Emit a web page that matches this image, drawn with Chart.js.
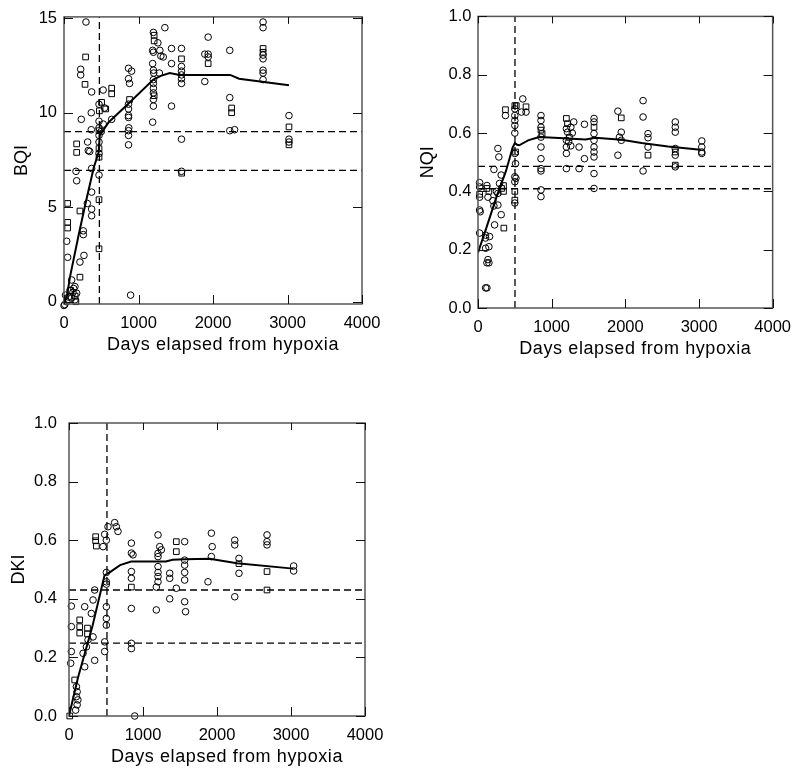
<!DOCTYPE html>
<html>
<head>
<meta charset="utf-8">
<script src="https://cdn.jsdelivr.net/npm/chart.js@4.4.1/dist/chart.umd.min.js"></script>
<style>
  body { margin: 0; background: #fff; width: 801px; height: 768px; position: relative; overflow: hidden; }
  canvas { position: absolute; }
</style>
</head>
<body>
<canvas id="bqiChart" width="400" height="380" style="left:0;top:0"></canvas>
<canvas id="nqiChart" width="401" height="380" style="left:400px;top:0"></canvas>
<canvas id="dkiChart" width="400" height="388" style="left:0;top:380px"></canvas>
<script>
// tick labels
const dayTicks = [0, 1000, 2000, 3000, 4000];
const bqiTicks = [0, 5, 10, 15];
const fracTicks = [0, 0.2, 0.4, 0.6, 0.8, 1.0];

// BQI: [days, value]
const bqiCircles = [
  [0,-0.2],[10,-0.15],[20,0.35],[36,0.0],[60,0.25],[80,0.6],[103,0.2],[103,1.15],[120,0.5],[130,0.7],[147,0.8],[147,0.1],[170,0.45],
  [36,3.2],[49,2.35],[161,6.9],[170,6.4],[214,2.1],[224,12.3],[224,12.0],[232,9.65],[259,3.75],[259,3.55],[268,2.45],[295,14.8],
  [313,5.2],[317,8.45],[326,8.0],[345,7.95],[366,10.0],[366,9.1],[371,11.1],[371,7.05],[371,5.8],[371,4.9],[371,4.55],
  [470,10.45],[470,9.55],[470,9.2],[470,8.8],[470,8.45],[470,7.85],[470,6.7],
  [500,9.0],[525,11.2],[527,9.4],[545,10.25],[640,9.65],
  [866,12.35],[866,11.8],[880,11.55],[866,10.45],[866,10.2],[866,9.85],[866,9.75],[870,9.2],[866,9.05],[866,8.8],[866,8.3],[894,0.35],[907,12.2],
  [1200,14.25],[1190,13.3],[1200,13.2],[1190,12.6],[1200,12.25],[1205,12.1],[1200,11.75],[1200,11.55],[1200,11.3],[1200,11.05],[1200,10.7],[1200,10.35],[1190,9.5],
  [1260,13.7],[1280,12.1],[1287,13.3],[1300,13.0],[1332,12.95],[1354,14.5],[1443,13.4],[1443,12.6],[1443,10.35],
  [1577,13.4],[1577,12.45],[1577,12.2],[1577,12.0],[1577,11.8],[1577,11.55],[1577,8.6],[1577,6.9],
  [1890,13.1],[1890,11.65],[1935,14.0],[1935,13.1],[1935,12.95],
  [2225,13.3],[2225,10.8],[2225,9.05],[2290,9.1],
  [2672,14.8],[2672,14.5],[2672,13.05],[2672,12.85],[2672,12.25],[2672,12.1],[2672,11.75],
  [3020,9.85],[3020,8.6],[3020,8.45]
];
const bqiSquares = [
  [49,5.2],[49,4.2],[49,3.9],[90,0.6],[150,0.3],[160,0.0],[170,8.35],[170,7.9],[214,4.8],[214,1.3],[282,11.5],[290,12.95],
  [470,9.05],[470,8.1],[470,7.65],[470,5.4],[470,2.8],[475,10.1],[505,10.55],[560,10.2],[640,11.3],[640,11.0],
  [880,10.7],[1210,14.1],[1210,13.8],[1210,10.9],[1577,12.85],[1580,6.8],[1935,12.6],[2250,10.25],[2250,10.0],
  [2672,13.4],[2672,13.2],[3020,9.25],[3020,8.3]
];
const bqiTrend = [[10,0],[40,0.3],[80,1.3],[200,3.6],[300,5.4],[400,7.1],[465,7.9],[480,8.8],[600,9.5],[870,10.5],
  [1200,11.75],[1300,11.95],[1420,12.1],[1550,12.0],[2230,12.0],[2350,11.8],[3020,11.45]];
const bqiCutDay = 475;
const bqiCutLevels = [9.0, 6.95];

// NQI
const nqiCircles = [
  [22,0.43],[22,0.415],[22,0.38],[22,0.336],[30,0.33],[22,0.257],[121,0.42],[135,0.38],[103,0.25],[103,0.24],[103,0.205],[148,0.21],
  [121,0.155],[148,0.155],[135,0.166],[103,0.069],[121,0.069],[157,0.245],
  [202,0.368],[216,0.475],[216,0.35],[225,0.285],[250,0.40],[270,0.547],[270,0.353],[270,0.393],[283,0.518],[292,0.427],[315,0.32],[315,0.456],[373,0.66],
  [500,0.683],[500,0.66],[500,0.643],[500,0.626],[500,0.6],[500,0.53],[510,0.495],[500,0.45],[515,0.445],[500,0.433],[500,0.36],
  [590,0.672],[608,0.717],[652,0.672],
  [855,0.66],[855,0.643],[855,0.62],[855,0.586],[855,0.552],[855,0.512],[855,0.478],[855,0.47],[855,0.405],[855,0.382],
  [1200,0.615],[1215,0.603],[1200,0.575],[1200,0.552],[1200,0.53],[1200,0.478],[1230,0.57],[1260,0.62],[1260,0.556],[1280,0.6],[1300,0.638],
  [1372,0.552],[1372,0.478],[1445,0.63],[1445,0.512],
  [1575,0.65],[1575,0.638],[1575,0.598],[1575,0.575],[1575,0.552],[1575,0.535],[1575,0.518],[1575,0.461],[1575,0.41],
  [1899,0.675],[1899,0.524],[1920,0.586],[1945,0.603],[1945,0.575],
  [2241,0.711],[2241,0.655],[2241,0.47],[2308,0.598],[2308,0.584],[2308,0.552],
  [2678,0.638],[2678,0.62],[2678,0.603],[2678,0.547],[2678,0.524],[2678,0.484],
  [3038,0.573],[3038,0.552],[3038,0.535],[3038,0.53]
];
const nqiSquares = [
  [22,0.39],[121,0.41],[148,0.40],[320,0.41],[346,0.42],[346,0.40],[351,0.274],[373,0.68],
  [500,0.694],[520,0.694],[510,0.535],[500,0.4],[500,0.37],[652,0.69],
  [855,0.61],[870,0.598],[1200,0.65],[1215,0.632],[1240,0.585],[1575,0.62],[1945,0.652],[2308,0.524],[2678,0.535],[2678,0.49]
];
const nqiTrend = [[0,0.19],[120,0.28],[250,0.38],[380,0.47],[470,0.55],[500,0.565],[530,0.56],[560,0.558],[680,0.575],[830,0.586],
  [1100,0.583],[1460,0.578],[1590,0.584],[1950,0.577],[2220,0.566],[2580,0.554],[3020,0.543]];
const nqiCutDay = 502;
const nqiCutLevels = [0.486, 0.409];

// DKI
const dkiCircles = [
  [32,0.375],[32,0.305],[32,0.22],[23,0.18],[100,0.1],[110,0.083],[100,0.066],[120,0.055],[110,0.038],[90,0.02],
  [212,0.373],[302,0.35],[257,0.26],[190,0.214],[235,0.236],[347,0.43],[325,0.396],[325,0.27],[347,0.19],[212,0.168],
  [482,0.62],[505,0.6],[460,0.578],[527,0.646],[617,0.66],[640,0.646],[662,0.63],
  [505,0.49],[505,0.458],[505,0.45],[505,0.373],[505,0.333],[505,0.31],[482,0.253],[482,0.22],
  [843,0.59],[843,0.556],[865,0.55],[843,0.493],[843,0.47],[843,0.367],[843,0.248],[843,0.23],[888,0.0],
  [1203,0.618],[1226,0.578],[1248,0.567],[1203,0.555],[1203,0.544],[1203,0.51],[1203,0.49],[1203,0.476],[1203,0.458],[1180,0.44],[1180,0.362],
  [1361,0.487],[1361,0.47],[1361,0.4],[1450,0.436],
  [1563,0.595],[1563,0.532],[1563,0.515],[1563,0.49],[1563,0.464],[1563,0.39],[1575,0.356],
  [1924,0.624],[1935,0.578],[1924,0.544],[1878,0.458],
  [2240,0.6],[2240,0.584],[2240,0.407],[2297,0.538],[2297,0.487],
  [2676,0.618],[2676,0.595],[2676,0.584],
  [3036,0.512],[3036,0.495]
];
const dkiSquares = [
  [10,0.0],[77,0.123],[145,0.328],[145,0.305],[145,0.283],[250,0.3],[250,0.28],[360,0.612],[360,0.598],[370,0.58],
  [843,0.44],[1450,0.595],[1450,0.561],[2297,0.52],[2676,0.493],[2676,0.43]
];
const dkiTrend = [[0,0],[120,0.13],[320,0.31],[480,0.48],[550,0.49],[690,0.515],[840,0.527],[1310,0.527],[1400,0.533],
  [1560,0.535],[1900,0.537],[2270,0.521],[3030,0.503]];
const dkiCutDay = 513;
const dkiCutLevels = [0.43, 0.249];

const FONT = "'Liberation Sans', Arial, sans-serif";

// box round the plot with inward tick marks, plus the x title
const framePlugin = {
  id: 'frame',
  afterDraw(chart, args, opts) {
    const { ctx, chartArea: a, scales } = chart;
    ctx.save();
    ctx.strokeStyle = '#555';
    ctx.lineWidth = 1.5;
    ctx.strokeRect(a.left, a.top, a.right - a.left, a.bottom - a.top);
    ctx.strokeStyle = '#111';
    ctx.lineWidth = 1;
    ctx.beginPath();
    scales.x.ticks.forEach(t => {
      const px = Math.round(scales.x.getPixelForValue(t.value)) + 0.5;
      ctx.moveTo(px, a.bottom); ctx.lineTo(px, a.bottom - 9);
      ctx.moveTo(px, a.top); ctx.lineTo(px, a.top + 7);
    });
    scales.y.ticks.forEach(t => {
      const py = Math.round(scales.y.getPixelForValue(t.value)) + 0.5;
      ctx.moveTo(a.left, py); ctx.lineTo(a.left + 9, py);
      ctx.moveTo(a.right, py); ctx.lineTo(a.right - 9, py);
    });
    ctx.stroke();
    ctx.fillStyle = '#000';
    ctx.font = '18px ' + FONT;
    ctx.letterSpacing = '0.6px';
    ctx.textAlign = 'center';
    ctx.textBaseline = 'alphabetic';
    ctx.fillText(opts.text, (a.left + a.right) / 2 + 10, a.bottom + 46);
    ctx.restore();
  }
};

function buildChart(id, p) {
  const toXY = arr => arr.map(([x, y]) => ({ x, y }));
  const dashed = pts => ({
    type: 'line', data: pts, borderColor: '#000', borderWidth: 1.3, borderDash: [7, 4],
    pointRadius: 0, fill: false, clip: false
  });
  const datasets = [
    { type: 'line', data: toXY(p.trend), borderColor: '#000', borderWidth: 2, pointRadius: 0, tension: 0, fill: false },
    dashed([{ x: p.cutDay, y: p.yMin }, { x: p.cutDay, y: p.yMax }]),
    ...p.levels.map(v => dashed([{ x: 0, y: v }, { x: 4000, y: v }])),
    { data: toXY(p.circles), pointStyle: 'circle', pointRadius: 3.3, borderColor: '#000', borderWidth: 1,
      backgroundColor: 'rgba(255,255,255,0)', clip: false },
    { data: toXY(p.squares), pointStyle: 'rect', pointRadius: 4, borderColor: '#000', borderWidth: 1,
      backgroundColor: 'rgba(255,255,255,0)', clip: false }
  ];
  return new Chart(document.getElementById(id), {
    type: 'scatter',
    data: { datasets },
    plugins: [framePlugin],
    options: {
      responsive: false,
      animation: false,
      events: [],
      layout: { padding: { left: 0, top: p.padTop, right: p.padRight, bottom: 0 } },
      plugins: {
        legend: { display: false },
        tooltip: { enabled: false },
        frame: { text: 'Days elapsed from hypoxia' }
      },
      scales: {
        x: {
          type: 'linear', min: 0, max: 4000,
          afterBuildTicks: s => { s.ticks = dayTicks.map(v => ({ value: v })); },
          afterFit: s => { s.height = p.xHeight; },
          grid: { display: false, drawTicks: false },
          border: { display: false },
          ticks: { padding: 10, color: '#000', font: { family: FONT, size: 16.5 }, maxRotation: 0, autoSkip: false,
                   callback: v => String(v) }
        },
        y: {
          type: 'linear', min: p.yMin, max: p.yMax,
          afterBuildTicks: s => { s.ticks = p.yTicks.map(v => ({ value: v })); },
          afterFit: s => { s.width = p.yWidth; },
          grid: { display: false, drawTicks: false },
          border: { display: false },
          ticks: { padding: p.tickPad, color: '#000', font: { family: FONT, size: 16.5 }, autoSkip: false,
                   callback: v => p.decimals ? Number(v).toFixed(1) : String(v) },
          title: { display: true, text: p.label, color: '#000', font: { family: FONT, size: 18 },
                   padding: { top: p.titlePad, bottom: 0 } }
        }
      }
    }
  });
}

buildChart('bqiChart', {
  label: 'BQI', circles: bqiCircles, squares: bqiSquares, trend: bqiTrend,
  cutDay: bqiCutDay, levels: bqiCutLevels, yMin: -0.12, yMax: 15.07, yTicks: bqiTicks, decimals: false,
  padTop: 13, padRight: 38, yWidth: 64, xHeight: 76, tickPad: 7, titlePad: 11
});
buildChart('nqiChart', {
  label: 'NQI', circles: nqiCircles, squares: nqiSquares, trend: nqiTrend,
  cutDay: nqiCutDay, levels: nqiCutLevels, yMin: 0, yMax: 1, yTicks: fracTicks, decimals: true,
  padTop: 14, padRight: 25, yWidth: 78, xHeight: 72, tickPad: 6.5, titlePad: 17
});
buildChart('dkiChart', {
  label: 'DKI', circles: dkiCircles, squares: dkiSquares, trend: dkiTrend,
  cutDay: dkiCutDay, levels: dkiCutLevels, yMin: 0, yMax: 1, yTicks: fracTicks, decimals: true,
  padTop: 43, padRight: 35, yWidth: 69, xHeight: 52, tickPad: 12, titlePad: 8
});
</script>
</body>
</html>
